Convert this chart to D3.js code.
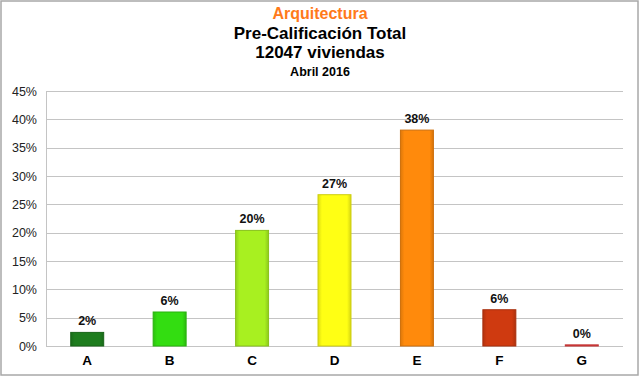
<!DOCTYPE html>
<html lang="es">
<head>
<meta charset="UTF-8">
<title>Pre-Calificación Total</title>
<script src="https://d3js.org/d3.v7.min.js"></script>
<style>
  body { margin: 0; background: #fff; }
  text { font-family: "Liberation Sans", Arial, sans-serif; }
</style>
</head>
<body>
<div id="chart"></div>
<script>
    // data
    const categories = ["A", "B", "C", "D", "E", "F", "G"];
    const values = [2.4, 6.0, 20.4, 26.7, 38.1, 6.4, 0.2];
    const valueLabels = ["2%", "6%", "20%", "27%", "38%", "6%", "0%"];
    const barColors = ["#1e7d1e", "#33dd11", "#a8f020", "#ffff14", "#ff8a0c", "#cf3a10", "#f04040"];
    const yTicks = [0, 5, 10, 15, 20, 25, 30, 35, 40, 45];

    const W = 640, H = 377;
    const margin = {top: 91, right: 17, bottom: 31, left: 46};
    const width = W - margin.left - margin.right,
          height = H - margin.top - margin.bottom;

    const root = d3.select("#chart").append("svg")
      .attr("width", W)
      .attr("height", H);

    // outer frame
    root.append("rect")
      .attr("x", 1).attr("y", 1)
      .attr("width", W - 3).attr("height", H - 3)
      .attr("fill", "#fff")
      .attr("stroke", "#a8a8a8")
      .attr("stroke-width", 1.5);

    // titles
    const titles = [
      {t: "Arquitectura", y: 19, size: 16, color: "#ff7a1a"},
      {t: "Pre-Calificación Total", y: 39, size: 17, color: "#000"},
      {t: "12047 viviendas", y: 58, size: 17, color: "#000"},
      {t: "Abril 2016", y: 76, size: 12.5, color: "#000"}
    ];
    root.selectAll("text.title")
      .data(titles)
      .join("text")
      .attr("class", "title")
      .attr("x", W / 2)
      .attr("y", d => d.y)
      .attr("text-anchor", "middle")
      .attr("font-weight", "bold")
      .attr("font-size", d => d.size)
      .attr("fill", d => d.color)
      .text(d => d.t);

    const svg = root.append("g")
      .attr("transform", `translate(${margin.left},${margin.top})`);

    const x = d3.scaleBand()
      .domain(categories)
      .range([0, width])
      .paddingInner(0.6)
      .paddingOuter(0.3);

    const y = d3.scaleLinear()
      .domain([0, 45])
      .range([height, 0]);

    // gridlines
    svg.append("g")
      .selectAll("line")
      .data(yTicks)
      .join("line")
      .attr("x1", 0).attr("x2", width)
      .attr("y1", d => Math.round(y(d)) + 0.5)
      .attr("y2", d => Math.round(y(d)) + 0.5)
      .attr("stroke", "#c4c4c4");

    svg.append("line")
      .attr("x1", 0.5).attr("x2", 0.5)
      .attr("y1", 0).attr("y2", height)
      .attr("stroke", "#c4c4c4");

    // y axis labels
    const yAxis = svg.append("g")
      .call(d3.axisLeft(y).tickValues(yTicks).tickFormat(d => d + "%").tickSize(0).tickPadding(9));
    yAxis.select(".domain").remove();
    yAxis.selectAll("text")
      .attr("font-family", "Liberation Sans, Arial, sans-serif")
      .attr("font-size", 12.5)
      .attr("fill", "#222");

    // x axis labels
    const xAxis = svg.append("g")
      .attr("transform", `translate(0,${height})`)
      .call(d3.axisBottom(x).tickSize(0).tickPadding(9));
    xAxis.select(".domain").remove();
    xAxis.selectAll("text")
      .attr("font-family", "Liberation Sans, Arial, sans-serif")
      .attr("font-weight", "bold")
      .attr("font-size", 13.5)
      .attr("fill", "#000");

    // bevel gradients
    const defs = root.append("defs");
    barColors.forEach((c, i) => {
      const g = defs.append("linearGradient")
        .attr("id", "grad" + i)
        .attr("x1", 0).attr("x2", 1).attr("y1", 0).attr("y2", 0);
      g.append("stop").attr("offset", "0%").attr("stop-color", d3.color(c).darker(0.4));
      g.append("stop").attr("offset", "12%").attr("stop-color", c);
      g.append("stop").attr("offset", "88%").attr("stop-color", c);
      g.append("stop").attr("offset", "100%").attr("stop-color", d3.color(c).darker(0.5));
    });

    const data = categories.map((c, i) => ({cat: c, v: values[i], label: valueLabels[i], i: i}));

    svg.selectAll("rect.bar")
      .data(data)
      .join("rect")
      .attr("class", "bar")
      .attr("x", d => x(d.cat))
      .attr("y", d => y(d.v))
      .attr("width", x.bandwidth())
      .attr("height", d => y(0) - y(d.v))
      .attr("fill", d => `url(#grad${d.i})`)
      .attr("stroke", d => d3.color(barColors[d.i]).darker(0.6))
      .attr("stroke-width", 1);

    svg.selectAll("text.val")
      .data(data)
      .join("text")
      .attr("class", "val")
      .attr("x", d => x(d.cat) + x.bandwidth() / 2)
      .attr("y", d => y(d.v) - 7)
      .attr("text-anchor", "middle")
      .attr("font-weight", "bold")
      .attr("font-size", 12.5)
      .attr("fill", "#111")
      .text(d => d.label);
</script>
</body>
</html>
